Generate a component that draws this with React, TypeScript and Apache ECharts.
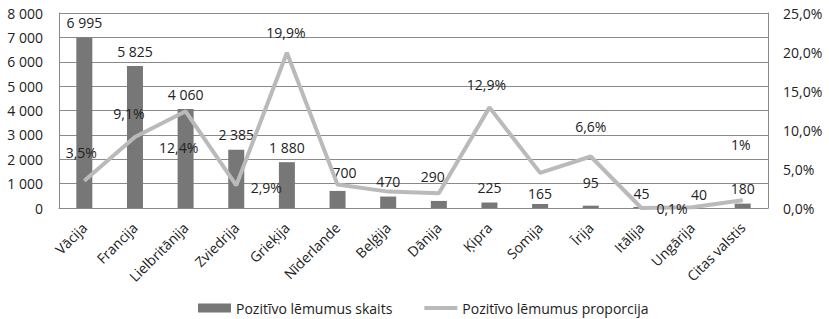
import React, { useEffect, useRef } from "react";
import * as echarts from "echarts";

const categories = [
  "Vācija",
  "Francija",
  "Lielbritānija",
  "Zviedrija",
  "Grieķija",
  "Nīderlande",
  "Beļģija",
  "Dānija",
  "Ķipra",
  "Somija",
  "Īrija",
  "Itālija",
  "Ungārija",
  "Citas valstis",
];
const decisionCounts = [6995, 5825, 4060, 2385, 1880, 700, 470, 290, 225, 165, 95, 45, 40, 180];
const decisionShares = [3.5, 9.1, 12.4, 2.9, 19.9, 3.0, 2.1, 1.9, 12.9, 4.5, 6.6, 0.0, 0.1, 1.0];
const shareLabels = ["3,5%", "9,1%", "12,4%", "2,9%", "19,9%", "", "", "", "12,9%", "", "6,6%", "", "0,1%", "1%"];
const countAxis = { min: 0, max: 8000, interval: 1000 };
const shareAxis = { min: 0, max: 25, interval: 5 };
const seriesNames = ["Pozitīvo lēmumus skaits", "Pozitīvo lēmumus proporcija"];

// label placement tweaks (styling only)
const barLabelShift: Record<number, [number, number]> = {
  5: [7, -3],
  7: [-6, -9],
  9: [0, 5],
  10: [0, -8],
  11: [0, 2],
  12: [7, 2],
};
const lineLabelShift: Record<number, [number, number]> = {
  0: [-3, -28],
  1: [-6, -24],
  2: [-7, 36],
  3: [30, 2],
  4: [-1, -20],
  8: [-3, -23],
  10: [0, -30],
  12: [-20, 1],
  13: [-2, -56],
};

const FONT = "'Open Sans', 'DejaVu Sans', sans-serif";
const TEXT = "#222222";
const GRID = "#8a8a8a";

const fmtThousands = (v: number) => String(v).replace(/\B(?=(\d{3})+(?!\d))/g, " ");
const fmtPct = (v: number) => v.toFixed(1).replace(".", ",") + "%";

export default function App() {
  const ref = useRef<HTMLDivElement>(null);
  useEffect(() => {
    if (!ref.current) return;
    const chart = echarts.init(ref.current, undefined, { renderer: "svg" });
    const barData = decisionCounts.map((v, i) => {
      const s = barLabelShift[i];
      return s ? { value: v, label: { offset: s } } : v;
    });
    const lineData = decisionShares.map((v, i) => {
      const s = lineLabelShift[i] || [0, -20];
      return { value: v, label: { offset: s, show: shareLabels[i] !== "" } };
    });
    chart.setOption({
      animation: false,
      textStyle: { fontFamily: FONT },
      grid: { left: 59, right: 61, top: 13, bottom: 111, containLabel: false, outerBoundsMode: "none" },
      legend: {
        left: 193,
        top: 296,
        itemWidth: 33,
        itemHeight: 9,
        itemGap: 30,
        textStyle: { fontFamily: FONT, fontSize: 14, color: TEXT },
        data: [
          { name: seriesNames[0], icon: "rect" },
          { name: seriesNames[1], itemStyle: { opacity: 0 }, lineStyle: { width: 4 } },
        ],
      },
      xAxis: {
        type: "category",
        data: categories,
        axisLine: { show: true, lineStyle: { color: GRID, width: 1 } },
        axisTick: { show: false },
        axisLabel: {
          rotate: 45,
          interval: 0,
          margin: 17,
          hideOverlap: false,
          fontFamily: FONT,
          fontSize: 14,
          color: TEXT,
        },
      },
      yAxis: [
        {
          type: "value",
          min: countAxis.min,
          max: countAxis.max,
          interval: countAxis.interval,
          axisLine: { show: true, lineStyle: { color: GRID } },
          axisTick: { show: false },
          splitLine: { show: true, lineStyle: { color: GRID, width: 1 } },
          axisLabel: {
            margin: 16,
            fontFamily: FONT,
            fontSize: 14,
            color: TEXT,
            formatter: (v: number) => fmtThousands(v),
          },
        },
        {
          type: "value",
          min: shareAxis.min,
          max: shareAxis.max,
          interval: shareAxis.interval,
          position: "right",
          axisLine: { show: true, lineStyle: { color: GRID } },
          axisTick: { show: false },
          splitLine: { show: false },
          axisLabel: {
            margin: 15,
            fontFamily: FONT,
            fontSize: 14,
            color: TEXT,
            formatter: (v: number) => fmtPct(v),
          },
        },
      ],
      series: [
        {
          name: seriesNames[0],
          type: "bar",
          yAxisIndex: 0,
          barWidth: 16,
          data: barData,
          itemStyle: { color: "#777777" },
          label: {
            show: true,
            position: "top",
            distance: 8,
            fontFamily: FONT,
            fontSize: 14,
            color: TEXT,
            formatter: (p: any) => fmtThousands(p.value),
          },
          z: 2,
        },
        {
          name: seriesNames[1],
          type: "line",
          yAxisIndex: 1,
          data: lineData,
          symbol: "circle",
          symbolSize: 1,
          showSymbol: true,
          lineStyle: { color: "#bababa", width: 4 },
          itemStyle: { color: "#bababa" },
          label: {
            show: true,
            position: "inside",
            fontFamily: FONT,
            fontSize: 14,
            color: TEXT,
            formatter: (p: any) => shareLabels[p.dataIndex],
          },
          z: 3,
        },
      ],
    });
    return () => chart.dispose();
  }, []);
  return (
    <div
      ref={ref}
      style={{ position: "fixed", left: 0, top: 0, width: 829, height: 319, background: "#ffffff" }}
    />
  );
}
